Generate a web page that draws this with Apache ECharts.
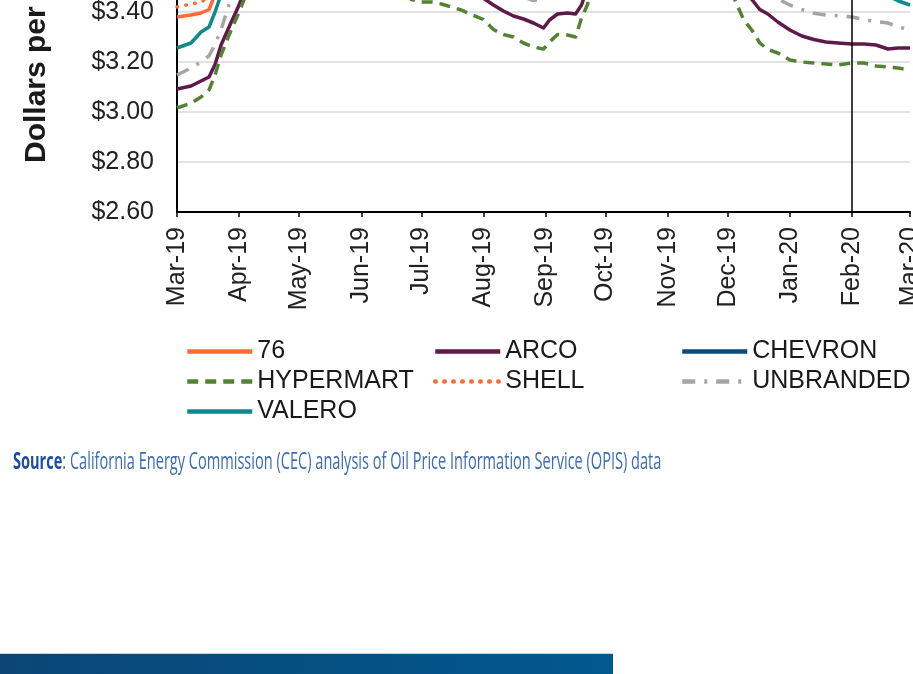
<!DOCTYPE html>
<html><head><meta charset="utf-8">
<script src="https://cdn.jsdelivr.net/npm/echarts@6/dist/echarts.min.js"></script>
<style>html,body{margin:0;padding:0;background:#fff;overflow:hidden}#c{width:913px;height:674px}</style>
</head><body><div id="c"></div>
<script>
const dates = ['2019-03-01','2019-03-08','2019-03-13','2019-03-17','2019-03-20','2019-03-23','2019-03-27','2019-04-01','2019-04-08','2019-04-15','2019-04-22','2019-05-01','2019-05-08','2019-05-15','2019-05-22','2019-06-01','2019-06-08','2019-06-15','2019-06-22','2019-06-26','2019-07-01','2019-07-06','2019-07-11','2019-07-16','2019-07-21','2019-07-26','2019-08-01','2019-08-06','2019-08-11','2019-08-16','2019-08-21','2019-08-26','2019-08-31','2019-09-03','2019-09-07','2019-09-12','2019-09-16','2019-09-19','2019-09-22','2019-09-26','2019-10-01','2019-10-08','2019-10-15','2019-10-22','2019-11-01','2019-11-08','2019-11-15','2019-11-22','2019-12-01','2019-12-05','2019-12-09','2019-12-13','2019-12-17','2019-12-21','2019-12-26','2020-01-01','2020-01-07','2020-01-13','2020-01-19','2020-01-25','2020-02-01','2020-02-07','2020-02-13','2020-02-19','2020-02-24','2020-03-01'];

const monthStarts = ['2019-03-01','2019-04-01','2019-05-01','2019-06-01','2019-07-01','2019-08-01','2019-09-01','2019-10-01','2019-11-01','2019-12-01','2020-01-01','2020-02-01','2020-03-01'];
const monthLabels = ['Mar-19','Apr-19','May-19','Jun-19','Jul-19','Aug-19','Sep-19','Oct-19','Nov-19','Dec-19','Jan-20','Feb-20','Mar-20'];
const yTicks = [2.60, 2.80, 3.00, 3.20, 3.40, 3.60, 3.80, 4.00];
const markerDate = '2020-02-01';

const v76 = [3.38,3.388,3.396,3.41,3.47,3.56,3.66,3.76,3.88,4.00,4.08,4.14,4.17,4.16,4.12,4.07,4.02,3.98,3.94,3.92,3.90,3.89,3.88,3.86,3.84,3.82,3.80,3.78,3.76,3.75,3.74,3.73,3.72,3.72,3.73,3.74,3.74,3.77,3.82,3.94,4.10,4.22,4.27,4.24,4.17,4.11,4.05,4.00,3.95,3.92,3.89,3.86,3.83,3.80,3.78,3.75,3.72,3.70,3.68,3.66,3.64,3.63,3.62,3.60,3.59,3.58];
const vArco = [3.092,3.104,3.124,3.14,3.19,3.268,3.34,3.428,3.58,3.72,3.82,3.90,3.93,3.92,3.88,3.82,3.77,3.72,3.68,3.66,3.63,3.62,3.60,3.58,3.55,3.50,3.455,3.428,3.404,3.384,3.372,3.356,3.336,3.368,3.392,3.396,3.392,3.428,3.50,3.66,3.85,4.00,4.05,4.00,3.90,3.84,3.78,3.70,3.62,3.55,3.50,3.45,3.41,3.392,3.36,3.328,3.304,3.29,3.28,3.276,3.272,3.272,3.268,3.252,3.256,3.256];
const vChevron = [3.56,3.57,3.58,3.60,3.65,3.72,3.82,3.92,4.02,4.10,4.18,4.24,4.27,4.26,4.22,4.17,4.12,4.08,4.04,4.02,4.00,3.99,3.98,3.96,3.94,3.92,3.90,3.88,3.86,3.85,3.84,3.83,3.82,3.82,3.83,3.84,3.84,3.87,3.92,4.04,4.20,4.32,4.37,4.34,4.27,4.21,4.15,4.10,4.05,4.02,3.99,3.96,3.93,3.90,3.88,3.85,3.82,3.80,3.78,3.76,3.74,3.73,3.72,3.70,3.69,3.68];
const vHypermart = [3.016,3.036,3.06,3.088,3.148,3.228,3.308,3.40,3.54,3.68,3.78,3.86,3.89,3.88,3.84,3.78,3.72,3.62,3.52,3.45,3.44,3.44,3.432,3.42,3.408,3.39,3.37,3.33,3.31,3.30,3.276,3.26,3.252,3.28,3.31,3.308,3.30,3.376,3.43,3.58,3.78,3.95,4.00,3.95,3.85,3.78,3.70,3.62,3.52,3.44,3.368,3.328,3.276,3.25,3.236,3.208,3.20,3.196,3.192,3.188,3.196,3.196,3.184,3.18,3.176,3.168];
const vShell = [3.42,3.432,3.44,3.46,3.52,3.60,3.70,3.80,3.92,4.04,4.12,4.18,4.21,4.20,4.16,4.11,4.06,4.02,3.98,3.96,3.94,3.93,3.92,3.90,3.88,3.86,3.84,3.82,3.80,3.79,3.78,3.77,3.76,3.76,3.77,3.78,3.78,3.81,3.86,3.98,4.14,4.26,4.31,4.28,4.21,4.15,4.09,4.04,3.99,3.96,3.93,3.90,3.87,3.84,3.82,3.79,3.76,3.74,3.72,3.70,3.68,3.67,3.66,3.64,3.63,3.62];
const vUnbranded = [3.148,3.176,3.20,3.225,3.27,3.33,3.43,3.55,3.68,3.80,3.88,3.95,3.98,3.97,3.93,3.87,3.82,3.77,3.73,3.71,3.69,3.68,3.66,3.64,3.61,3.57,3.53,3.51,3.49,3.475,3.46,3.446,3.455,3.47,3.49,3.50,3.50,3.54,3.60,3.74,3.92,4.06,4.10,4.06,3.97,3.91,3.85,3.78,3.71,3.65,3.60,3.55,3.51,3.475,3.452,3.428,3.41,3.395,3.388,3.385,3.38,3.37,3.362,3.356,3.34,3.33];
const vValero = [3.256,3.276,3.32,3.34,3.40,3.47,3.56,3.66,3.78,3.90,3.98,4.05,4.08,4.07,4.03,3.98,3.93,3.88,3.84,3.82,3.80,3.79,3.78,3.76,3.74,3.71,3.68,3.66,3.64,3.62,3.61,3.60,3.59,3.60,3.61,3.62,3.62,3.66,3.72,3.85,4.02,4.15,4.20,4.16,4.08,4.02,3.96,3.90,3.84,3.80,3.77,3.74,3.71,3.68,3.65,3.62,3.59,3.57,3.55,3.53,3.51,3.50,3.49,3.465,3.445,3.428];

const FONT = 'Liberation Sans, Arial, sans-serif';
const ts = d => echarts.time.parse(d).getTime();
const pair = arr => dates.map((d, i) => [ts(d), arr[i]]);

const seriesDefs = [
  {name: '76', data: v76, color: '#FF6A33', type: 'solid'},
  {name: 'ARCO', data: vArco, color: '#5E1A48', type: 'solid'},
  {name: 'CHEVRON', data: vChevron, color: '#0B4A7E', type: 'solid'},
  {name: 'HYPERMART', data: vHypermart, color: '#548235', type: [11, 7]},
  {name: 'SHELL', data: vShell, color: '#FF6A33', type: [0.5, 8.5], cap: 'round'},
  {name: 'UNBRANDED', data: vUnbranded, color: '#A5A5A5', type: [13, 9, 3, 9]},
  {name: 'VALERO', data: vValero, color: '#0F8A8A', type: 'solid'}
];

const series = seriesDefs.map(s => ({
  name: s.name, type: 'line', data: pair(s.data), symbol: 'none', showSymbol: false,
  color: s.color, silent: true,
  lineStyle: {color: s.color, width: 3.5, type: s.type, cap: s.cap || 'butt', join: 'round'}
}));
series[1].markLine = {
  silent: true, symbol: ['none', 'none'], label: {show: false},
  lineStyle: {color: '#000', width: 1.5, type: 'solid'},
  data: [{xAxis: ts(markerDate)}]
};

const monthTs = monthStarts.map(ts);

const legendBase = {
  orient: 'vertical', itemWidth: 65, itemHeight: 14, itemGap: 1, padding: 0,
  textStyle: {fontFamily: FONT, fontSize: 25, color: '#1a1a1a', lineHeight: 29},
  lineStyle: {width: 4.5}, itemStyle: {opacity: 0}, selectedMode: false
};

const chart = echarts.init(document.getElementById('c'), null, {renderer: 'canvas'});
chart.setOption({
  animation: false,
  backgroundColor: '#fff',
  grid: {left: 177, right: 3, top: -138, bottom: 462, containLabel: false, outerBoundsMode: 'none'},
  xAxis: {
    type: 'value', min: monthTs[0], max: monthTs[monthTs.length - 1],
    axisLine: {lineStyle: {color: '#000', width: 2}},
    axisTick: {show: true, length: 5, lineStyle: {color: '#000', width: 1.5}, customValues: monthTs},
    splitLine: {show: false},
    axisLabel: {
      customValues: monthTs, rotate: 90, margin: 15,
      fontFamily: FONT, fontSize: 25, color: '#222',
      formatter: v => { const i = monthTs.indexOf(+v); return i >= 0 ? monthLabels[i] : ''; }
    }
  },
  yAxis: {
    type: 'value', min: yTicks[0], max: yTicks[yTicks.length - 1], interval: 0.2,
    axisLine: {show: true, lineStyle: {color: '#000', width: 2}},
    axisTick: {show: false},
    splitLine: {show: true, lineStyle: {color: '#d9d9d9', width: 1.5}},
    axisLabel: {margin: 23, fontFamily: FONT, fontSize: 25, color: '#222',
      formatter: v => '$' + v.toFixed(2)}
  },
  legend: [
    Object.assign({}, legendBase, {left: 185, top: 337, data: ['76', 'HYPERMART', 'VALERO']}),
    Object.assign({}, legendBase, {left: 433, top: 337, data: ['ARCO', 'SHELL']}),
    Object.assign({}, legendBase, {left: 680, top: 337, data: ['CHEVRON', 'UNBRANDED']})
  ],
  graphic: [
    {type: 'text', x: 37, y: 163, rotation: Math.PI / 2,
      style: {text: 'Dollars per Gallon', fontFamily: FONT, fontSize: 30, fontWeight: 'bold',
        fill: '#1a1a1a', align: 'left', verticalAlign: 'middle'}},
    {type: 'text', x: 13, y: 462, scaleX: 0.607, originX: 0, originY: 0,
      style: {text: '{b|Source}{r|: California Energy Commission (CEC) analysis of Oil Price Information Service (OPIS) data}',
        verticalAlign: 'middle', align: 'left',
        rich: {
          b: {fontFamily: 'Open Sans, Noto Sans, sans-serif', fontSize: 24, fontWeight: 'bold', fill: '#1d4f9e'},
          r: {fontFamily: 'Open Sans, Noto Sans, sans-serif', fontSize: 24, fill: '#3b6cb4'}
        }}},
    {type: 'rect', shape: {x: 0, y: 653, width: 613, height: 1}, style: {fill: '#c4d3e0'}},
    {type: 'rect', shape: {x: 0, y: 654, width: 613, height: 20},
      style: {fill: new echarts.graphic.LinearGradient(0, 0, 1, 0, [
        {offset: 0, color: '#0b4676'}, {offset: 1, color: '#01588f'}])}}
  ],
  series: series
});
</script>
</body></html>
